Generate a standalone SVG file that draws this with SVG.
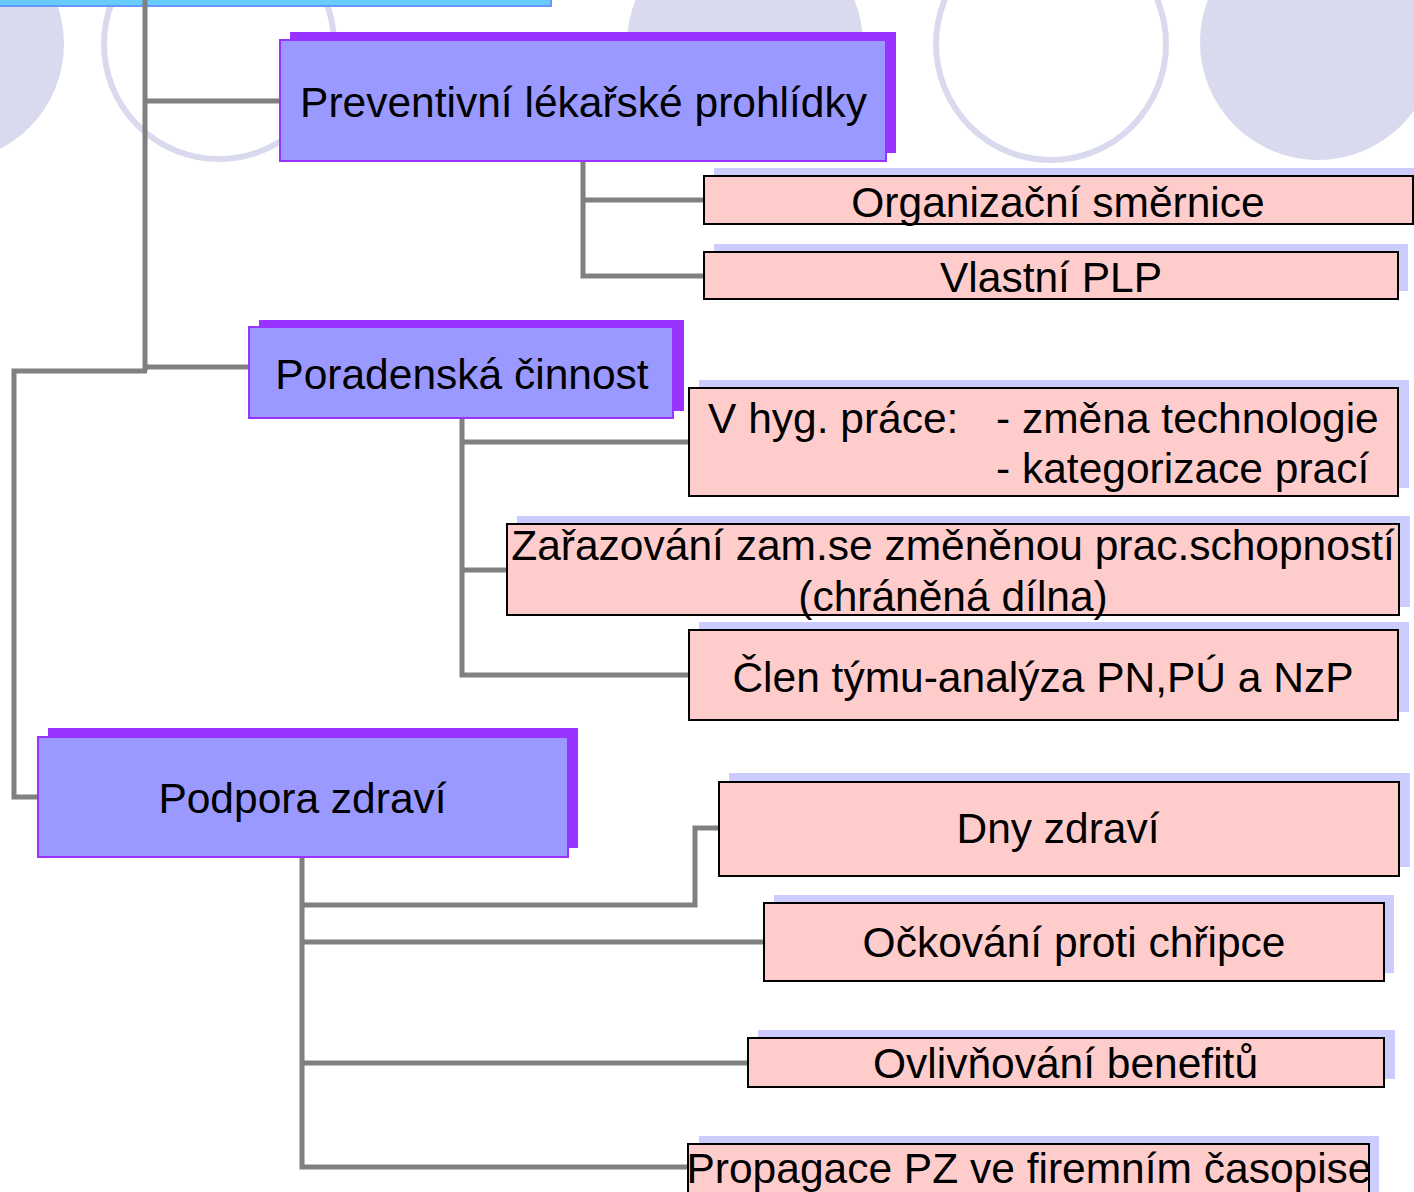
<svg xmlns="http://www.w3.org/2000/svg" width="1414" height="1192" viewBox="0 0 1414 1192">
<style>
.bgf{fill:#dadaee;stroke:none}
.bgr{fill:none;stroke:#dadaee;stroke-width:6}
.ps{fill:#9933ff}
.pb{fill:#9999ff;stroke:#9933ff;stroke-width:2}
.ks{fill:#ccccff}
.kb{fill:#ffcccc;stroke:#000000;stroke-width:2}
.t{font-family:"Liberation Sans",Arial,sans-serif;font-size:42.5px;fill:#000000}
.m{text-anchor:middle}
.c{fill:none;stroke:#808080;stroke-width:5;stroke-linejoin:miter}
</style>
<rect width="1414" height="1192" fill="#ffffff"/>
<g id="background">
<circle class="bgf" cx="-54" cy="44" r="118"/>
<ellipse class="bgr" cx="219" cy="44" rx="115" ry="115"/>
<circle class="bgf" cx="745" cy="44" r="118"/>
<ellipse class="bgr" cx="1051" cy="44" rx="115" ry="116"/>
<circle class="bgf" cx="1318" cy="42" r="118"/>
<rect x="-4" y="-10" width="555" height="16" fill="#66ccff" stroke="#6699ff" stroke-width="2"/>
</g>
<g id="connectors">
<polyline class="c" points="145,0 145,371"/>
<polyline class="c" points="145,101 280,101"/>
<polyline class="c" points="145,367 250,367"/>
<polyline class="c" points="147,371 14,371 14,797 38,797"/>
<polyline class="c" points="583,161 583,276 704,276"/>
<polyline class="c" points="583,200 704,200"/>
<polyline class="c" points="462,418 462,675 689,675"/>
<polyline class="c" points="462,442 689,442"/>
<polyline class="c" points="462,570 507,570"/>
<polyline class="c" points="302,857 302,1167 688,1167"/>
<polyline class="c" points="302,905 695,905 695,828 719,828"/>
<polyline class="c" points="302,942 764,942"/>
<polyline class="c" points="302,1063 748,1063"/>
</g>
<g id="n-preventivni">
<rect class="ps" x="290" y="32" width="606" height="121"/>
<rect class="pb" x="280" y="40" width="606" height="121"/>
<text class="t m" x="583.5" y="117">Preventivní lékařské prohlídky</text>
</g>
<g id="n-organizacni">
<rect class="ks" x="714" y="168" width="710" height="48"/>
<rect class="kb" x="704" y="176" width="709" height="48"/>
<text class="t m" x="1058" y="217">Organizační směrnice</text>
</g>
<g id="n-vlastni">
<rect class="ks" x="714" y="244" width="694" height="47"/>
<rect class="kb" x="704" y="252" width="694" height="47"/>
<text class="t m" x="1051" y="292">Vlastní PLP</text>
</g>
<g id="n-poradenska">
<rect class="ps" x="259" y="320" width="425" height="91"/>
<rect class="pb" x="249" y="327" width="424" height="91"/>
<text class="t m" x="462" y="389">Poradenská činnost</text>
</g>
<g id="n-vhyg">
<rect class="ks" x="699" y="380" width="710" height="108"/>
<rect class="kb" x="689" y="388" width="709" height="108"/>
<text class="t" y="433"><tspan x="708">V hyg. práce:</tspan><tspan x="996">- změna technologie</tspan><tspan x="996" y="483">- kategorizace prací</tspan></text>
</g>
<g id="n-zarazovani">
<rect class="ks" x="517" y="516" width="893" height="91"/>
<rect class="kb" x="507" y="524" width="892" height="91"/>
<text class="t m" x="953" y="560">Zařazování zam.se změněnou prac.schopností<tspan x="953" y="611">(chráněná dílna)</tspan></text>
</g>
<g id="n-clen">
<rect class="ks" x="699" y="622" width="710" height="90"/>
<rect class="kb" x="689" y="630" width="709" height="90"/>
<text class="t m" x="1043" y="692">Člen týmu-analýza PN,PÚ a NzP</text>
</g>
<g id="n-podpora">
<rect class="ps" x="48" y="728" width="530" height="120"/>
<rect class="pb" x="38" y="737" width="530" height="120"/>
<text class="t m" x="302.5" y="813">Podpora zdraví</text>
</g>
<g id="n-dny">
<rect class="ks" x="729" y="773" width="681" height="94"/>
<rect class="kb" x="719" y="782" width="680" height="94"/>
<text class="t m" x="1058" y="843">Dny zdraví</text>
</g>
<g id="n-ockovani">
<rect class="ks" x="774" y="895" width="620" height="78"/>
<rect class="kb" x="764" y="903" width="620" height="78"/>
<text class="t m" x="1074" y="957">Očkování proti chřipce</text>
</g>
<g id="n-ovlivnovani">
<rect class="ks" x="758" y="1030" width="637" height="49"/>
<rect class="kb" x="748" y="1038" width="636" height="49"/>
<text class="t m" x="1065.5" y="1078">Ovlivňování benefitů</text>
</g>
<g id="n-propagace">
<rect class="ks" x="699" y="1136" width="680" height="60"/>
<rect class="kb" x="688" y="1144" width="681" height="60"/>
<text class="t m" x="1029" y="1183">Propagace PZ ve firemním časopise</text>
</g>
</svg>
